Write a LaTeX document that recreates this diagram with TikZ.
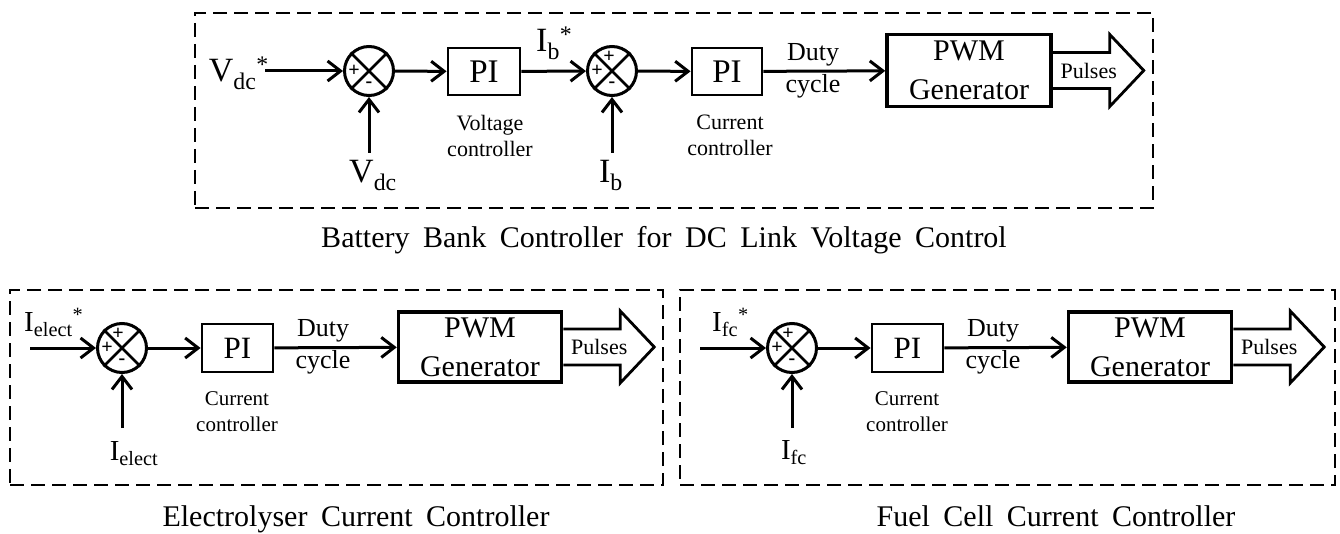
\documentclass[tikz,border=0pt]{standalone}
\usepackage{fontspec}
\setmainfont{Liberation Serif}
\usetikzlibrary{arrows.meta}
\newcommand{\widesp}{\spaceskip 13.5pt plus 1pt\relax}
\tikzset{
  arr/.style={line width=3pt, -{Straight Barb[length=13pt,width=20pt]}},
  pibox/.style={draw, line width=2.8pt, minimum width=72pt, minimum height=47pt, inner sep=0pt, font=\fontsize{33}{38}\selectfont},
  pwmbox/.style={draw, line width=3.5pt, minimum width=164pt, minimum height=72pt, inner sep=0pt, align=center, font=\fontsize{30}{39}\selectfont},
  sumc/.style={circle, draw, line width=3pt, minimum size=49pt, inner sep=0pt},
  group/.style={draw, line width=2.6pt, dash pattern=on 14pt off 7pt, inner sep=0pt},
  biglbl/.style={inner sep=0pt, font=\fontsize{34}{40}\selectfont},
  midlbl/.style={inner sep=0pt, font=\fontsize{29}{34}\selectfont},
  smalllbl/.style={inner sep=0pt, align=center, font=\fontsize{22}{26}\selectfont},
  dutylbl/.style={inner sep=0pt, align=center, font=\fontsize{26}{32}\selectfont},
  pulselbl/.style={inner sep=0pt, font=\fontsize{22}{26}\selectfont},
  signlbl/.style={inner sep=0pt, font=\bfseries\fontsize{20}{22}\selectfont},
  titlelbl/.style={inner sep=0pt, anchor=base, font=\fontsize{30}{34}\selectfont},
  pulsearrow/.style={draw, line width=2.8pt, line join=miter}
}
\newcommand{\sumcross}[1]{%
  \draw[line width=2.8pt] (#1.45) -- (#1.225) (#1.135) -- (#1.315);}
\newcommand{\pulsesarrow}[2]{%
  \draw[pulsearrow] ([shift={(0,-18)}]#1.east) -- ([shift={(57,-18)}]#1.east)
    -- ([shift={(57,-36)}]#1.east) -- ([shift={(91,0)}]#1.east)
    -- ([shift={(57,36)}]#1.east) -- ([shift={(57,18)}]#1.east)
    -- ([shift={(0,18)}]#1.east);
  \node[pulselbl] (#2) at ([shift={(36,0)}]#1.east) {Pulses};}
\begin{document}
\begin{tikzpicture}[x=1pt,y=-1pt]
\useasboundingbox (0,0) rectangle (1340,534);

% ---------------- Top: battery bank ----------------
\node[group, minimum width=958pt, minimum height=195pt] (g1) at (674,110.5) {};
\node[titlelbl] (t1) at (664,248) {\widesp Battery Bank Controller for DC Link Voltage Control};

\node[biglbl, anchor=base east] (vdcs) at (269,82) {V\textsubscript{dc}\textsuperscript{*}};
\coordinate (in1) at (265,71);
\node[sumc] (s1) at (369,71) {};
\sumcross{s1}
\node[signlbl] (s1a) at ([shift={(-15,0)}]s1.center) {+};
\node[signlbl] (s1b) at ([shift={(0,14)}]s1.center) {-};
\node[pibox] (pi1) at (484,71.5) {PI};
\node[smalllbl] (vc) at (490,136) {Voltage\\controller};
\node[biglbl, anchor=base west] (ibs) at (536,52) {I\textsubscript{b}\textsuperscript{*}};
\node[sumc] (s2) at (612,71) {};
\sumcross{s2}
\node[signlbl] (s2a) at ([shift={(-3,-14)}]s2.center) {+};
\node[signlbl] (s2b) at ([shift={(-15,0)}]s2.center) {+};
\node[signlbl] (s2c) at ([shift={(0,14)}]s2.center) {-};
\node[pibox, minimum width=70pt] (pi2) at (727,71.5) {PI};
\node[smalllbl] (cc1) at (730,135) {Current\\controller};
\node[dutylbl] (d1) at (813,70.5) {Duty\\cycle};
\node[pwmbox] (pwm1) at (969,70.5) {PWM\\Generator};
\pulsesarrow{pwm1}{p1}
\coordinate (fb1) at (369,153);
\coordinate (fb2) at (612,153);
\node[biglbl, anchor=base] (vdc) at (373,183) {V\textsubscript{dc}};
\node[biglbl, anchor=base] (ib) at (611,183) {I\textsubscript{b}};

\draw[arr] (in1) -- (s1);
\draw[arr] (s1) -- (pi1);
\draw[arr] (pi1) -- (s2);
\draw[arr] (s2) -- (pi2);
\draw[arr] (pi2) -- (pwm1);
\draw[arr] (fb1) -- (s1.south);
\draw[arr] (fb2) -- (s2.south);

% ---------------- Bottom left: electrolyser ----------------
\node[group, minimum width=653pt, minimum height=195pt] (g2) at (336.5,387.5) {};
\node[titlelbl] (t2) at (356,526) {\widesp Electrolyser Current Controller};

\node[midlbl, anchor=base west] (ies) at (24,331) {I\textsubscript{elect}\textsuperscript{*}};
\coordinate (in3) at (30,348);
\node[sumc] (s3) at (122,348) {};
\sumcross{s3}
\node[signlbl] (s3a) at ([shift={(-4,-14)}]s3.center) {+};
\node[signlbl] (s3b) at ([shift={(-15,0)}]s3.center) {+};
\node[signlbl] (s3c) at ([shift={(0,14)}]s3.center) {-};
\node[pibox, minimum width=71pt, minimum height=48pt, font=\fontsize{31}{36}\selectfont] (pi3) at (237.5,348) {PI};
\node[smalllbl, font=\fontsize{21}{26}\selectfont] (cc3) at (237,412) {Current\\controller};
\node[dutylbl] (d3) at (323,347) {Duty\\cycle};
\node[pwmbox, minimum width=163pt, minimum height=70pt] (pwm3) at (480,347) {PWM\\Generator};
\pulsesarrow{pwm3}{p3}
\coordinate (fb3) at (122,428);
\node[midlbl, anchor=base] (ie) at (134,460) {I\textsubscript{elect}};

\draw[arr] (in3) -- (s3);
\draw[arr] (s3) -- (pi3);
\draw[arr] (pi3) -- (pwm3);
\draw[arr] (fb3) -- (s3.south);

% ---------------- Bottom right: fuel cell ----------------
\node[group, minimum width=655pt, minimum height=195pt] (g4) at (1007.5,387.5) {};
\node[titlelbl] (t4) at (1056,526) {\widesp Fuel Cell Current Controller};

\node[midlbl, anchor=base west] (ifs) at (712,331) {I\textsubscript{fc}\textsuperscript{*}};
\coordinate (in4) at (700,348);
\node[sumc] (s4) at (792,348) {};
\sumcross{s4}
\node[signlbl] (s4a) at ([shift={(-4,-14)}]s4.center) {+};
\node[signlbl] (s4b) at ([shift={(-15,0)}]s4.center) {+};
\node[signlbl] (s4c) at ([shift={(0,14)}]s4.center) {-};
\node[pibox, minimum width=71pt, minimum height=48pt, font=\fontsize{31}{36}\selectfont] (pi4) at (907.5,348) {PI};
\node[smalllbl, font=\fontsize{21}{26}\selectfont] (cc4) at (907,412) {Current\\controller};
\node[dutylbl] (d4) at (993,347) {Duty\\cycle};
\node[pwmbox, minimum width=163pt, minimum height=70pt] (pwm4) at (1150,347) {PWM\\Generator};
\pulsesarrow{pwm4}{p4}
\coordinate (fb4) at (792,428);
\node[midlbl, anchor=base] (ifc) at (794,459) {I\textsubscript{fc}};

\draw[arr] (in4) -- (s4);
\draw[arr] (s4) -- (pi4);
\draw[arr] (pi4) -- (pwm4);
\draw[arr] (fb4) -- (s4.south);
\end{tikzpicture}
\end{document}
